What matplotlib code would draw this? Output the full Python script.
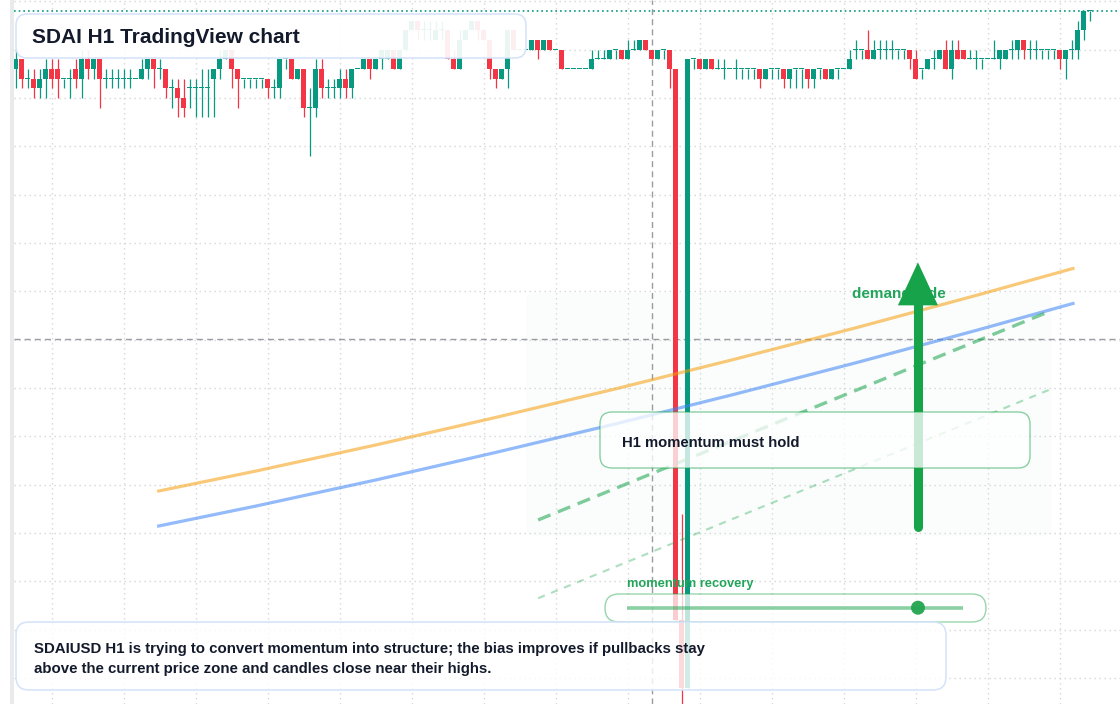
import matplotlib
matplotlib.use("Agg")
import matplotlib.pyplot as plt
from matplotlib.patches import FancyBboxPatch, Rectangle, Circle, Polygon
from matplotlib.lines import Line2D
from matplotlib.transforms import IdentityTransform

# H1 candles, oldest first, price in ticks (last price = 100)
opens = [94, 95, 93, 93, 92, 93, 94, 94, 93, 93,
         94, 93, 95, 94, 95, 93, 93, 93, 93, 93,
         93, 93, 94, 95, 94, 94, 92, 92, 91, 92,
         92, 92, 92, 93, 94, 95, 96, 94, 93, 93,
         93, 93, 93, 92, 92, 95, 95, 93, 94, 90,
         90, 94, 92, 92, 92, 93, 92, 94, 94, 95,
         94, 95, 95, 96, 94, 96, 98, 99, 98, 98,
         97, 98, 98, 95, 94, 97, 98, 99, 98, 97,
         94, 93, 94, 98, 96, 96, 96, 97, 96, 97,
         96, 96, 94, 94, 94, 94, 94, 95, 95, 95,
         96, 96, 95, 96, 96, 97, 96, 95, 96, 96,
         94, 37, 30, 95, 95, 94, 95, 94, 94, 94,
         94, 94, 94, 94, 94, 93, 94, 94, 94, 93,
         94, 94, 94, 93, 94, 94, 93, 94, 94, 94,
         96, 96, 96, 95, 96, 96, 96, 96, 96, 96,
         95, 94, 94, 95, 95, 96, 94, 96, 96, 95,
         95, 95, 95, 95, 95, 95, 96, 96, 97, 96,
         96, 96, 96, 96, 96, 95, 96, 96, 98, 100]
highs = [96, 95, 94, 94, 94, 95, 95, 95, 93, 94,
         95, 96, 96, 95, 95, 94, 94, 94, 94, 94,
         93, 95, 95, 95, 95, 94, 93, 93, 93, 93,
         93, 94, 94, 94, 96, 96, 96, 94, 93, 93,
         93, 93, 93, 93, 95, 95, 95, 94, 94, 92,
         95, 95, 93, 93, 94, 94, 94, 94, 95, 95,
         95, 96, 96, 96, 96, 98, 99, 99, 99, 99,
         99, 99, 98, 96, 98, 98, 99, 99, 98, 97,
         94, 94, 98, 98, 96, 96, 97, 97, 97, 97,
         96, 96, 94, 94, 94, 94, 96, 96, 96, 96,
         96, 96, 97, 97, 97, 97, 96, 96, 96, 96,
         94, 48, 95, 95, 95, 95, 95, 95, 95, 94,
         95, 94, 94, 94, 94, 94, 94, 94, 94, 94,
         94, 94, 94, 94, 94, 94, 94, 94, 94, 96,
         97, 96, 98, 97, 97, 97, 97, 96, 96, 96,
         96, 94, 95, 96, 96, 97, 97, 97, 96, 96,
         96, 95, 95, 97, 96, 96, 97, 97, 97, 97,
         97, 96, 96, 96, 96, 96, 97, 99, 100, 100]
lows = [92, 92, 92, 91, 91, 91, 92, 91, 92, 91,
        92, 91, 93, 93, 90, 92, 92, 92, 92, 92,
        93, 93, 93, 92, 93, 91, 90, 89, 89, 90,
        89, 89, 89, 89, 93, 95, 92, 90, 92, 92,
        92, 92, 91, 91, 91, 94, 93, 93, 89, 85,
        89, 91, 91, 91, 91, 91, 91, 94, 94, 93,
        94, 94, 95, 94, 94, 96, 98, 97, 97, 97,
        97, 97, 95, 94, 94, 97, 98, 97, 97, 93,
        92, 93, 92, 96, 96, 96, 96, 95, 96, 96,
        96, 94, 94, 94, 94, 94, 94, 95, 95, 95,
        95, 95, 95, 96, 96, 96, 95, 95, 95, 92,
        37, 27, 30, 94, 94, 94, 94, 94, 93, 94,
        93, 93, 93, 93, 92, 93, 93, 93, 92, 92,
        92, 92, 92, 92, 93, 93, 93, 93, 94, 94,
        95, 95, 95, 95, 95, 95, 95, 95, 95, 94,
        93, 93, 94, 94, 95, 94, 93, 95, 95, 95,
        94, 94, 95, 95, 94, 95, 95, 95, 95, 95,
        95, 95, 95, 95, 94, 93, 95, 95, 97, 99]
closes = [95, 93, 93, 92, 93, 94, 93, 93, 93, 93,
          93, 95, 94, 95, 93, 93, 93, 93, 93, 93,
          93, 94, 95, 94, 94, 92, 92, 91, 90, 92,
          92, 92, 92, 94, 95, 96, 94, 93, 93, 93,
          93, 93, 92, 92, 95, 95, 93, 94, 90, 90,
          94, 92, 92, 92, 93, 92, 94, 94, 95, 94,
          95, 96, 96, 94, 96, 98, 99, 98, 98, 98,
          98, 98, 95, 94, 97, 98, 99, 98, 97, 94,
          93, 94, 98, 96, 96, 96, 97, 96, 97, 96,
          96, 94, 94, 94, 94, 94, 95, 95, 95, 96,
          96, 95, 96, 96, 97, 96, 95, 96, 96, 94,
          37, 30, 95, 95, 94, 95, 94, 94, 94, 94,
          94, 94, 94, 94, 93, 94, 94, 94, 93, 94,
          94, 94, 93, 94, 94, 93, 94, 94, 94, 95,
          96, 96, 95, 96, 96, 96, 96, 96, 96, 95,
          93, 94, 95, 95, 96, 94, 96, 95, 95, 95,
          95, 95, 95, 95, 96, 96, 96, 97, 96, 96,
          96, 96, 96, 96, 95, 96, 96, 98, 100, 100]

# moving averages (bar index, price)
ema_x = [23.6, 40, 60, 80, 100, 120, 140, 160, 176.5]
ema_fast = [50.31, 52.40, 55.10, 57.95, 60.91, 64.00, 67.22, 70.56, 73.41]
ema_slow = [46.69, 48.78, 51.48, 54.33, 57.29, 60.38, 63.60, 66.94, 69.79]

# projected channel
trend_x = [87.1, 172.2]
trend_upper = [47.35, 68.89]
trend_lower = [39.25, 60.79]

arrow_x = 150.4
arrow_from = 46.6
arrow_to = 74.0

last_price = 100
cross_x = 106
cross_y = 66.1
momentum_progress = 0.866

title = "SDAI H1 TradingView chart"
note_lines = ["SDAIUSD H1 is trying to convert momentum into structure; the bias improves if pullbacks stay",
              "above the current price zone and candles close near their highs."]
box_label = "H1 momentum must hold"
zone_label = "demand side"
meter_label = "momentum recovery"

TEAL = "#089981"
RED = "#f23645"
GREEN = "#16a34a"
TEXT_GREEN = "#22a55a"
DARK = "#131a2b"

W, H = 1120, 704
plt.rcParams['font.family'] = ['Liberation Sans', 'DejaVu Sans']

fig = plt.figure(figsize=(W / 100, H / 100), dpi=100)
fig.patch.set_facecolor('white')
ax = fig.add_axes([14 / W, 0, 1 - 14 / W, 1])
ax.set_xlim(-0.25, 184.08)
ax.set_ylim(28.31, 101.14)
for s in ax.spines.values():
    s.set_visible(False)
ax.set_xticks(range(6, 180, 12))
ax.set_yticks(range(31, 102, 5))
ax.tick_params(length=0, labelbottom=False, labelleft=False)
ax.grid(True, color='#d6d6d6', linestyle=(0, (1, 2.6)), linewidth=1)
ax.set_axisbelow(True)

# px per data unit, for sizing things drawn in data space
ppx = (W - 14) / (184.08 + 0.25)
ppy = H / (101.14 - 28.31)


def rbox(x0, y0, x1, y1, r, **kw):
    return FancyBboxPatch((x0, H - y1), x1 - x0, y1 - y0,
                          boxstyle=f"round,pad=0,rounding_size={r}",
                          transform=IdentityTransform(), **kw)


# demand zone shading
ax.add_patch(rbox(526, 293, 1052, 536, 10, facecolor=(0.09, 0.64, 0.29, 0.02),
                  edgecolor='none', zorder=0.5))

# candles
idx = list(range(len(opens)))
colors = [TEAL if c >= o else RED for o, c in zip(opens, closes)]
bottoms = [min(o, c) for o, c in zip(opens, closes)]
heights = [max(abs(c - o), 0.11) for o, c in zip(opens, closes)]
ax.vlines(idx, lows, highs, colors=colors, linewidth=0.9, zorder=2.9)
ax.bar(idx, heights, bottom=bottoms, width=0.78, color=colors, linewidth=0, zorder=3)

# last price + crosshair
ax.axhline(last_price, color=TEAL, linestyle=(0, (1, 1.8)), linewidth=1.2, zorder=2)
ax.axvline(cross_x, color='#9a9ca3', linestyle=(0, (4.3, 3)), linewidth=1, zorder=2.5)
ax.axhline(cross_y, color='#9a9ca3', linestyle=(0, (4.3, 3)), linewidth=1, zorder=2.5)

# moving averages and channel
ax.plot(ema_x, ema_fast, color='#f59e0b', alpha=0.55, linewidth=2.3,
        solid_capstyle='butt', zorder=4)
ax.plot(ema_x, ema_slow, color='#3b82f6', alpha=0.55, linewidth=2.3,
        solid_capstyle='butt', zorder=4)
ax.plot(trend_x, trend_upper, color=GREEN, alpha=0.55, linewidth=2.4,
        linestyle=(0, (4, 2.4)), zorder=4)
ax.plot(trend_x, trend_lower, color=GREEN, alpha=0.35, linewidth=1.5,
        linestyle=(0, (3.5, 3.2)), zorder=4)

# demand side label sits under the arrow head
ax.text(851.5, H - 298, zone_label, transform=IdentityTransform(), color=TEXT_GREEN,
        fontsize=11, fontweight='bold', va='baseline', ha='left', zorder=5)

# arrow
head_w = 40 / ppx
head_l = 43 / ppy
ax.plot([arrow_x, arrow_x], [arrow_from, arrow_to - head_l + 0.3], color=GREEN,
        linewidth=6.5, solid_capstyle='round', zorder=6)
ax.add_patch(Polygon([(arrow_x - head_w / 2, arrow_to - head_l),
                      (arrow_x + head_w / 2, arrow_to - head_l),
                      (arrow_x, arrow_to)], closed=True, facecolor=GREEN,
                     edgecolor='none', zorder=6))

# left price-scale strip
fig.add_artist(Rectangle((10, 0), 4, H, transform=IdentityTransform(),
                         facecolor='#e9eaec', edgecolor='none', zorder=1))

# title card
fig.add_artist(rbox(16, 14, 526, 58, 11, facecolor=(1, 1, 1, 0.92),
                    edgecolor='#d4e2fa', linewidth=1.1, zorder=5))
fig.text(32.3 / W, 1 - 43.3 / H, title, fontsize=15, fontweight='bold', color=DARK,
         va='baseline', ha='left', zorder=8)

# H1 box
fig.add_artist(rbox(600, 412, 1030, 468, 12, facecolor=(1, 1, 1, 0.77),
                    edgecolor=(0.09, 0.64, 0.29, 0.5), linewidth=1.0, zorder=5))
fig.text(622.5 / W, 1 - 447 / H, box_label, fontsize=10.7, fontweight='bold', color=DARK,
         va='baseline', ha='left', zorder=8)

# momentum meter
fig.add_artist(rbox(605, 594, 986, 622, 14, facecolor=(1, 1, 1, 0.75),
                    edgecolor=(0.09, 0.64, 0.29, 0.45), linewidth=1.0, zorder=5))
x0m, x1m, ym = 627, 963, H - 607.7
fig.add_artist(Line2D([x0m, x1m], [ym, ym], transform=IdentityTransform(), color=GREEN,
                      alpha=0.5, linewidth=2.6, solid_capstyle='butt', zorder=6))
fig.add_artist(Circle((x0m + momentum_progress * (x1m - x0m), ym), 7,
                      transform=IdentityTransform(), facecolor='#22a550', edgecolor='none',
                      alpha=0.95, zorder=7))
fig.text(627.3 / W, 1 - 586.5 / H, meter_label, fontsize=9.3, fontweight='bold',
         color=TEXT_GREEN, va='baseline', ha='left', zorder=8)

# note card
fig.add_artist(rbox(16, 622, 946, 690, 13, facecolor=(1, 1, 1, 0.82),
                    edgecolor='#d4e2fa', linewidth=1.1, zorder=5))
for k, line in enumerate(note_lines):
    fig.text(34.3 / W, 1 - (653.3 + 20 * k) / H, line, fontsize=10.8, fontweight='bold',
             color=DARK, va='baseline', ha='left', zorder=8)

fig.savefig("out.png", dpi=100)
